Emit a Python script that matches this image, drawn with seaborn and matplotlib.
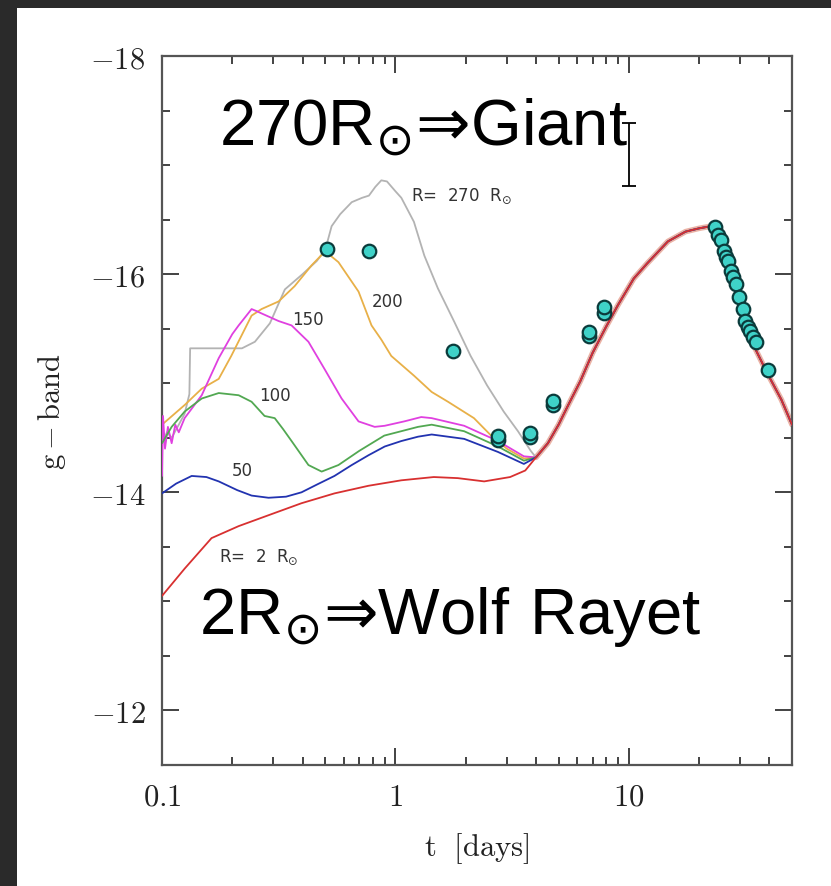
import numpy as np
import matplotlib
matplotlib.use("Agg")
import matplotlib.pyplot as plt
import seaborn as sns
from matplotlib.ticker import FixedLocator, FuncFormatter, NullFormatter, MultipleLocator
from matplotlib.patches import Rectangle

# ---- model light curves (g-band absolute magnitude vs days) ----
# late-time part shared by every progenitor radius (56Ni-powered peak)
t_late = [4.0, 4.5, 5.0, 5.5, 6.2, 7.0, 8.0, 9.0, 10.5, 12.0, 14.7, 17.5, 20.0,
          22.5, 24.0, 27.0, 30.0, 34.0, 39.0, 45.0, 50.0]
g_late = [-14.32, -14.45, -14.62, -14.80, -15.02, -15.28, -15.52, -15.72, -15.96,
          -16.10, -16.30, -16.39, -16.42, -16.44, -16.40, -16.10, -15.80, -15.36,
          -15.10, -14.85, -14.62]

# early parts, one per radius
t_r270 = [0.1, 0.105, 0.11, 0.118, 0.125, 0.131, 0.132, 0.22, 0.25, 0.29, 0.336,
          0.40, 0.46, 0.5, 0.533, 0.58, 0.65, 0.72, 0.77, 0.82, 0.87, 0.92, 1.0,
          1.06, 1.2, 1.33, 1.52, 1.79, 2.1, 2.47, 2.91, 3.35, 3.8]
g_r270 = [-14.45, -14.55, -14.50, -14.62, -14.72, -14.90, -15.32, -15.32, -15.38,
          -15.55, -15.86, -16.00, -16.12, -16.22, -16.44, -16.55, -16.66, -16.70,
          -16.72, -16.80, -16.86, -16.85, -16.76, -16.70, -16.48, -16.17, -15.87,
          -15.56, -15.25, -14.98, -14.74, -14.56, -14.38]

t_r200 = [0.1, 0.125, 0.148, 0.175, 0.198, 0.242, 0.267, 0.316, 0.37, 0.437, 0.5,
          0.57, 0.695, 0.79, 0.87, 0.96, 1.2, 1.43, 1.68, 2.17, 2.57, 3.0, 3.55]
g_r200 = [-14.62, -14.80, -14.95, -15.04, -15.25, -15.62, -15.68, -15.75, -15.89,
          -16.08, -16.21, -16.11, -15.84, -15.53, -15.40, -15.25, -15.07, -14.92,
          -14.83, -14.68, -14.52, -14.40, -14.31]

t_r150 = [0.1, 0.101, 0.103, 0.106, 0.11, 0.114, 0.118, 0.125, 0.148, 0.175, 0.2,
          0.213, 0.23, 0.242, 0.255, 0.267, 0.316, 0.359, 0.424, 0.497, 0.588,
          0.695, 0.815, 0.9, 1.09, 1.29, 1.43, 1.97, 2.75, 3.55]
g_r150 = [-14.15, -14.70, -14.40, -14.60, -14.45, -14.62, -14.55, -14.68, -14.89,
          -15.23, -15.45, -15.53, -15.62, -15.68, -15.66, -15.64, -15.57, -15.53,
          -15.38, -15.13, -14.86, -14.65, -14.60, -14.61, -14.65, -14.69, -14.68,
          -14.61, -14.47, -14.33]

t_r100 = [0.1, 0.11, 0.125, 0.148, 0.175, 0.213, 0.242, 0.275, 0.304, 0.33, 0.359,
          0.424, 0.483, 0.57, 0.7, 0.896, 1.25, 1.43, 1.97, 2.75, 3.55]
g_r100 = [-14.45, -14.60, -14.74, -14.86, -14.91, -14.89, -14.83, -14.70, -14.68,
          -14.58, -14.47, -14.25, -14.19, -14.25, -14.38, -14.52, -14.60, -14.62,
          -14.56, -14.42, -14.29]

t_r50 = [0.1, 0.115, 0.134, 0.155, 0.175, 0.21, 0.242, 0.286, 0.34, 0.396, 0.46,
         0.548, 0.65, 0.767, 0.9, 1.06, 1.25, 1.43, 1.97, 2.75, 3.55]
g_r50 = [-13.99, -14.08, -14.15, -14.14, -14.10, -14.02, -13.97, -13.95, -13.96,
         -14.00, -14.07, -14.15, -14.25, -14.34, -14.42, -14.47, -14.51, -14.53,
         -14.49, -14.37, -14.26]

t_r2 = [0.1, 0.125, 0.163, 0.213, 0.286, 0.396, 0.548, 0.767, 1.06, 1.46, 1.85,
        2.4, 3.1, 3.6]
g_r2 = [-13.05, -13.30, -13.58, -13.69, -13.79, -13.90, -13.99, -14.06, -14.11,
        -14.14, -14.13, -14.10, -14.14, -14.20]

# ---- observed photometry ----
obs_t = [0.507, 0.767, 1.77, 2.75, 2.75, 3.78, 3.78, 4.73, 4.73, 6.75, 6.75, 7.82,
         7.82, 23.5, 24.2, 24.7, 25.5, 26.0, 26.5, 27.3, 28.0, 28.7, 29.5, 30.7,
         31.6, 32.4, 33.2, 34.0, 34.9, 39.3]
obs_g = [-16.23, -16.21, -15.30, -14.48, -14.52, -14.51, -14.54, -14.80, -14.84,
         -15.43, -15.47, -15.64, -15.70, -16.43, -16.36, -16.31, -16.21, -16.16,
         -16.12, -16.03, -15.97, -15.91, -15.79, -15.68, -15.57, -15.52, -15.48,
         -15.42, -15.38, -15.12]

# typical photometric uncertainty
err_t = [10.0]
err_g = [-17.10]
err_size = [0.29]

# curve labels
lab_text = [r"R=  270  R$_{\odot}$", "200", "150", "100", "50", r"R=  2  R$_{\odot}$"]
lab_t = [1.17, 0.79, 0.36, 0.26, 0.199, 0.175]
lab_g = [-16.72, -15.75, -15.59, -14.89, -14.20, -13.41]

sns.set_style("ticks")
plt.rcParams["font.family"] = ["DejaVu Sans"]
plt.rcParams["mathtext.fontset"] = "cm"

fig = plt.figure(figsize=(8.31, 8.87), dpi=100, facecolor="#2a2a2a")
fig.patches.append(Rectangle((17 / 831, 0), 1, 1 - 9 / 887, transform=fig.transFigure,
                             facecolor="white", edgecolor="none", zorder=-10))
ax = fig.add_axes([162 / 831, 1 - 766 / 887, 630 / 831, 709 / 887])
ax.set_facecolor("white")

# soft band beneath the common late-time curve
sns.lineplot(x=t_late, y=g_late, ax=ax, color="#e8a595", lw=4.0, alpha=0.85,
             sort=False, estimator=None, zorder=1)

models = [
    (t_r270, g_r270, "#b3b3b3"),
    (t_r200, g_r200, "#e8b048"),
    (t_r150, g_r150, "#e040e0"),
    (t_r100, g_r100, "#52a852"),
    (t_r50, g_r50, "#2233b0"),
    (t_r2, g_r2, "#d83030"),
]
for i, (tt, gg, col) in enumerate(models):
    sns.lineplot(x=np.concatenate([tt, t_late]), y=np.concatenate([gg, g_late]),
                 ax=ax, color=col, lw=1.3, sort=False, estimator=None, zorder=2 + i)

sns.scatterplot(x=obs_t, y=obs_g, ax=ax, s=95, color="#3fd2c8", edgecolor="#0b3b3b",
                linewidth=1.6, zorder=20)

ax.errorbar(err_t, err_g, yerr=err_size, fmt="none", ecolor="black", elinewidth=1.3,
            capsize=5, capthick=1.3, zorder=20)

for s, xt, yg in zip(lab_text, lab_t, lab_g):
    ax.text(xt, yg, s, fontsize=12, color="#333333", ha="left", va="center",
            math_fontfamily="dejavusans", zorder=25)

big = dict(fontsize=47, family="Liberation Sans", math_fontfamily="dejavusans",
           color="black", transform=ax.transAxes, ha="left", va="baseline", zorder=30)
ax.text(0.09, 0.876, r"$\mathregular{270R}_{\odot}\mathrm{⇒}\mathregular{Giant}$", **big)
ax.text(0.059, 0.186, r"$\mathregular{2R}_{\odot}\mathrm{⇒}\mathregular{Wolf\ Rayet}$", **big)

ax.set_xscale("log")
ax.set_xlim(0.1, 50)
ax.set_ylim(-11.5, -18)

ax.xaxis.set_major_locator(FixedLocator([0.1, 1, 10]))
ax.xaxis.set_minor_locator(FixedLocator([0.2, 0.3, 0.4, 0.5, 0.6, 0.7, 0.8, 0.9,
                                         2, 3, 4, 5, 6, 7, 8, 9, 20, 30, 40]))
ax.xaxis.set_major_formatter(FuncFormatter(lambda v, p: f"${v:g}$"))
ax.xaxis.set_minor_formatter(NullFormatter())
ax.yaxis.set_major_locator(FixedLocator([-18, -16, -14, -12]))
ax.yaxis.set_minor_locator(MultipleLocator(0.5))
ax.yaxis.set_major_formatter(FuncFormatter(lambda v, p: f"${v:g}$"))

ax.tick_params(which="both", direction="in", top=True, right=True, color="#222222",
               width=1.2, labelsize=22, pad=12, labelcolor="#222222")
ax.tick_params(which="major", length=12)
ax.tick_params(which="minor", length=6)
for sp in ax.spines.values():
    sp.set_color("#555555")
    sp.set_linewidth(1.6)

ax.set_xlabel(r"$\mathrm{t\ \ [days]}$", fontsize=22, labelpad=14, color="#222222")
ax.set_ylabel(r"$\mathrm{g-band}$", fontsize=22, labelpad=16, color="#222222")

fig.savefig("out.png", dpi=100, facecolor=fig.get_facecolor())
